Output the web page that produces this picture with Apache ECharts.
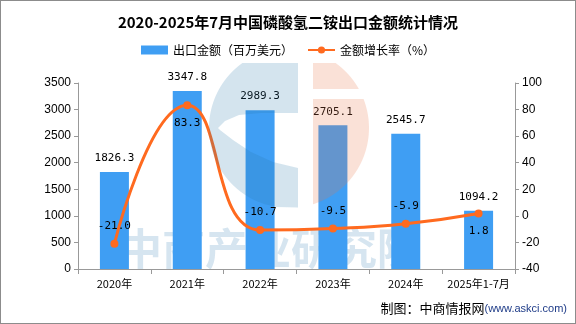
<!DOCTYPE html>
<html>
<head>
<meta charset="utf-8">
<script src="https://cdn.jsdelivr.net/npm/echarts@6/dist/echarts.min.js"></script>
<style>
html,body{margin:0;padding:0;background:#fff;}
#chart{width:576px;height:324px;box-sizing:border-box;border:1px solid #8c8c8c;}
</style>
</head>
<body>
<div id="chart"></div>
<script>
// 出口金额与增速
const categories = ['2020年', '2021年', '2022年', '2023年', '2024年', '2025年1-7月'];
const exportValue = [1826.3, 3347.8, 2989.3, 2705.1, 2545.7, 1094.2];
const growthRate = [-21.0, 83.3, -10.7, -9.5, -5.9, 1.8];
const leftTicks = [0, 3500, 500];
const rightTicks = [-40, 100, 20];

const cjk = '"Noto Sans CJK SC", "Liberation Sans", sans-serif';
const chart = echarts.init(document.getElementById('chart'));

// 增速标签位置：多数在点上方，部分在点下方
const growthLabelPos = ['top', 'bottom', 'top', 'top', 'top', 'bottom'];

// 背景徽标：圆形，左侧蓝色（中间挖空），右侧粉色（上方一道缝）
const LOGO = { cx: 288, cy: 127, r: 80, top: 62, split: 297, gap: 312 };
function circleX(y, side) {
  const dy = y - LOGO.cy;
  const dx = Math.sqrt(Math.max(0, LOGO.r * LOGO.r - dy * dy));
  return side < 0 ? LOGO.cx - dx : LOGO.cx + dx;
}
function circleY(x, side) {
  const dx = x - LOGO.cx;
  const dy = Math.sqrt(Math.max(0, LOGO.r * LOGO.r - dx * dx));
  return side < 0 ? LOGO.cy - dy : LOGO.cy + dy;
}
function bluePoints() {
  const pts = [];
  const yTopSplit = Math.max(LOGO.top, circleY(LOGO.split, -1));
  pts.push([LOGO.split, yTopSplit]);
  pts.push([circleX(LOGO.top, -1), LOGO.top]);
  const yBot = circleY(LOGO.split, 1);
  for (let y = LOGO.top; y <= yBot; y += 3) pts.push([circleX(y, -1), y]);
  pts.push([LOGO.split, yBot]);
  // 挖空下沿
  pts.push([LOGO.split, 167]);
  pts.push([272, 161], [250, 151], [232, 139], [219, 129]);
  // 挖空上沿
  pts.push([217, 127], [224, 120], [238, 114], [260, 112], [LOGO.split, 112]);
  return pts;
}
function pinkPoints(y0, y1) {
  const pts = [[LOGO.gap, y0]];
  for (let y = y0; y <= y1; y += 3) pts.push([circleX(y, 1), y]);
  pts.push([circleX(y1, 1), y1]);
  pts.push([LOGO.gap, y1]);
  return pts;
}
function pinkLower() {
  const pts = [[LOGO.gap, 98]];
  const yBot = circleY(LOGO.gap, 1);
  for (let y = 98; y <= yBot; y += 3) pts.push([circleX(y, 1), y]);
  pts.push([LOGO.gap, yBot]);
  return pts;
}

chart.setOption({
  animation: false,
  title: {
    text: '2020-2025年7月中国磷酸氢二铵出口金额统计情况',
    left: 'center',
    top: 9,
    textStyle: { fontFamily: cjk, fontSize: 15, fontWeight: 'bold', color: '#000' }
  },
  legend: {
    top: 38,
    left: 'center',
    itemWidth: 27,
    itemHeight: 9,
    itemGap: 14,
    textStyle: { fontFamily: cjk, fontSize: 12, color: '#000' },
    data: [
      { name: '出口金额（百万美元）', icon: 'rect' },
      { name: '金额增长率（%）' }
    ]
  },
  grid: { left: 77, right: 60, top: 82, bottom: 54 },
  graphic: [
    {
      type: 'text',
      left: 118,
      top: 226,
      silent: true,
      z: 0,
      style: {
        text: '中商产业研究院',
        font: 'bold 43px ' + cjk,
        fill: 'rgba(120,170,205,0.3)',
        letterSpacing: 5
      }
    },
    {
      type: 'polygon',
      silent: true,
      z: 100,
      shape: { points: bluePoints() },
      style: { fill: 'rgba(40,120,170,0.2)' }
    },
    {
      type: 'polygon',
      silent: true,
      z: 100,
      shape: { points: pinkPoints(LOGO.top, 88) },
      style: { fill: 'rgba(233,120,74,0.22)' }
    },
    {
      type: 'polygon',
      silent: true,
      z: 100,
      shape: { points: pinkLower() },
      style: { fill: 'rgba(233,120,74,0.22)' }
    },
    {
      type: 'text',
      right: 8,
      bottom: 8,
      z: 100,
      style: {
        rich: {
          a: { fontFamily: cjk, fontSize: 13, fill: '#000' },
          b: { fontFamily: '"Liberation Sans", sans-serif', fontSize: 11, fill: '#1f3c88' }
        },
        text: '{a|制图：中商情报网}{b|(www.askci.com)}'
      }
    }
  ],
  xAxis: {
    type: 'category',
    data: categories,
    axisLine: { lineStyle: { color: '#999' } },
    axisTick: { show: true, lineStyle: { color: '#999' } },
    axisLabel: { color: '#000', fontSize: 11, fontFamily: cjk, margin: 9, interval: 0 }
  },
  yAxis: [
    {
      type: 'value',
      min: leftTicks[0], max: leftTicks[1], interval: leftTicks[2],
      splitLine: { show: false },
      axisLine: { show: true, lineStyle: { color: '#999' } },
      axisTick: { show: true, length: 4, lineStyle: { color: '#999' } },
      axisLabel: { color: '#000', fontSize: 12, fontFamily: '"Liberation Sans", sans-serif', margin: 7, formatter: v => String(v) }
    },
    {
      type: 'value',
      min: rightTicks[0], max: rightTicks[1], interval: rightTicks[2],
      splitLine: { show: false },
      axisLine: { show: true, lineStyle: { color: '#999' } },
      axisTick: { show: true, length: 4, lineStyle: { color: '#999' } },
      axisLabel: { color: '#000', fontSize: 12, fontFamily: '"Liberation Sans", sans-serif', margin: 7, formatter: v => String(v) }
    }
  ],
  series: [
    {
      name: '出口金额（百万美元）',
      type: 'bar',
      data: exportValue,
      barWidth: 29,
      itemStyle: { color: '#3f9ef3' },
      label: {
        show: true,
        position: 'top',
        distance: 8,
        color: '#000',
        fontSize: 11,
        fontFamily: '"DejaVu Sans Mono", monospace',
        formatter: p => p.value.toFixed(1)
      }
    },
    {
      name: '金额增长率（%）',
      type: 'line',
      yAxisIndex: 1,
      smooth: true,
      symbol: 'circle',
      symbolSize: 8,
      lineStyle: { color: '#ff6a1f', width: 3 },
      itemStyle: { color: '#ff6a1f' },
      data: growthRate.map((v, i) => ({
        value: v,
        label: { position: growthLabelPos[i] }
      })),
      label: {
        show: true,
        distance: 8,
        color: '#000',
        fontSize: 11,
        fontFamily: '"DejaVu Sans Mono", monospace',
        formatter: p => p.value.toFixed(1)
      },
      z: 5
    }
  ]
});
</script>
</body>
</html>
